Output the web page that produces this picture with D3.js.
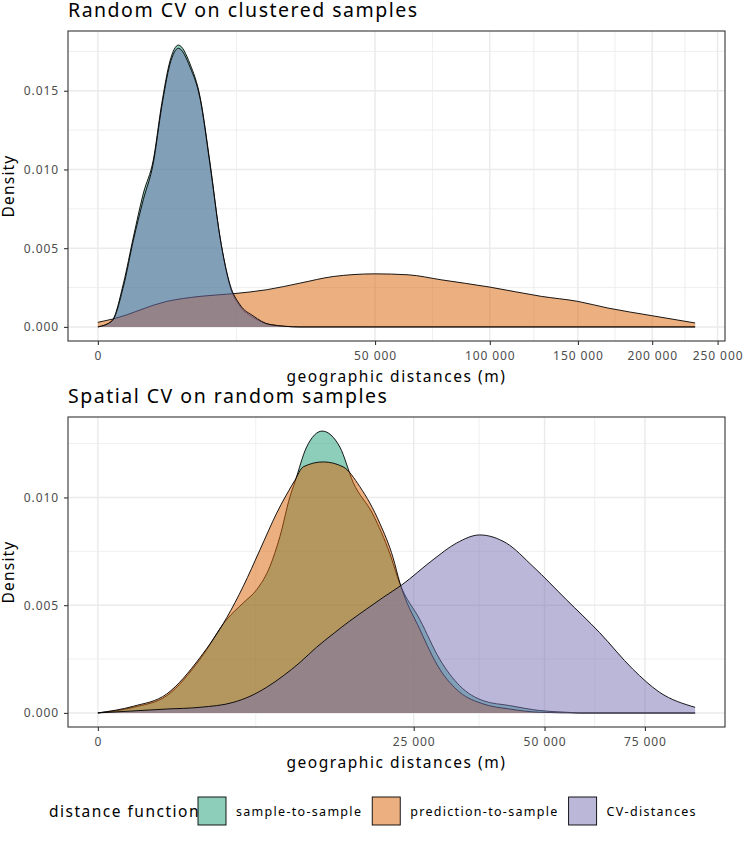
<!DOCTYPE html>
<html>
<head>
<meta charset="utf-8">
<script src="https://cdn.jsdelivr.net/npm/d3@7"></script>
<style>
  body { margin: 0; background: #fff; }
  svg { font-family: "Noto Sans", sans-serif; }
</style>
</head>
<body>
<svg width="750" height="850"></svg>
<script>
// legend groups, in drawing order
const groups = ['sample-to-sample', 'prediction-to-sample', 'CV-distances'];
const fills = ['#1b9e77', '#d95f02', '#7570b3'];

// panel 1: Random CV on clustered samples (distance in m, density)
const topDist = {
  'sample-to-sample': [0, 130, 430, 820, 1350, 2000, 2660, 3390, 4220, 5530, 6800, 8190, 9710, 11360, 13160, 15700, 19300, 26600, 232200],
  'prediction-to-sample': [0, 158, 3091, 6795, 11940, 18545, 26569, 36060, 49900, 62640, 76840, 99930, 128000, 150000, 169300, 199300, 232200],
  'CV-distances': [0, 130, 430, 820, 1350, 2000, 2660, 3390, 4220, 5530, 6800, 8190, 9710, 11360, 13160, 15700, 19300, 26600, 232200]
};
const topDens = {
  'sample-to-sample': [0, 0.0004, 0.0028, 0.0057, 0.0085, 0.0106, 0.0142, 0.0169, 0.0179, 0.0167, 0.0146, 0.0104, 0.0057, 0.0026, 0.0013, 0.0006, 0.00015, 0, 0],
  'prediction-to-sample': [0.00029, 0.00051, 0.00162, 0.00194, 0.00211, 0.00236, 0.00278, 0.0032, 0.00337, 0.00331, 0.00299, 0.00253, 0.00194, 0.00162, 0.0012, 0.00072, 0.00025],
  'CV-distances': [0, 0.00037, 0.0026, 0.0055, 0.0081, 0.0104, 0.014, 0.0167, 0.0177, 0.0165, 0.0145, 0.0103, 0.0057, 0.0027, 0.0014, 0.0007, 0.00015, 0, 0]
};
const topXTicks = [0, 50000, 100000, 150000, 200000, 250000];
const topYTicks = [0, 0.005, 0.010, 0.015];

// panel 2: Spatial CV on random samples
const botDist = {
  'sample-to-sample': [0, 317, 1190, 2616, 4160, 5300, 6320, 7422, 8308, 9245, 9732, 10920, 12612, 14677, 16333, 18990, 21360, 22846, 25970, 29290, 32815, 37170, 42500, 48900, 55000, 58150, 89400],
  'prediction-to-sample': [0, 317, 1190, 2616, 4160, 5300, 6585, 8010, 9732, 10568, 12723, 15080, 17200, 19923, 21845, 22846, 25970, 29290, 32815, 37170, 42500, 48900, 58150, 89400],
  'CV-distances': [0, 1190, 2616, 4597, 5799, 7140, 8612, 10231, 11990, 13877, 15914, 18090, 20392, 23104, 28157, 32220, 36538, 41820, 47437, 54990, 63076, 71717, 79045, 89400]
};
const botDens = {
  'sample-to-sample': [0, 0.00026, 0.0008, 0.00249, 0.00434, 0.00511, 0.00572, 0.0068, 0.00819, 0.01003, 0.01072, 0.01234, 0.01308, 0.01234, 0.0107, 0.0092, 0.0074, 0.006, 0.00434, 0.00249, 0.00126, 0.00057, 0.00034, 0.00011, 0.00003, 0, 0],
  'prediction-to-sample': [0, 0.00031, 0.00088, 0.00257, 0.00442, 0.00588, 0.00757, 0.00927, 0.0108, 0.01142, 0.01165, 0.01142, 0.0105, 0.0088, 0.0072, 0.00605, 0.00388, 0.00203, 0.00096, 0.00042, 0.00018, 0.00003, 0, 0],
  'CV-distances': [0, 0.00018, 0.00026, 0.00049, 0.00077, 0.00119, 0.00172, 0.00234, 0.00305, 0.00367, 0.00427, 0.00482, 0.00536, 0.00593, 0.00711, 0.00788, 0.00826, 0.00788, 0.0068, 0.00526, 0.00373, 0.00203, 0.00096, 0.00026]
};
const botXTicks = [0, 25000, 50000, 75000];
const botYTicks = [0, 0.005, 0.010];

const svg = d3.select('svg');
const fmtX = d3.formatLocale({decimal: '.', thousands: ' ', grouping: [3], currency: ['', '']}).format(',d');
const fmtY = d3.format('.3f');

const left = 68, right = 725;

function panel(cfg) {
  const {top, bottom, title, dist, dens, xTicks, yTicks} = cfg;

  // ranges with 5% expansion (x in sqrt space)
  const maxD = d3.max(groups, k => d3.max(dist[k]));
  const s = Math.sqrt(maxD);
  const x = d3.scaleSqrt()
    .domain([-Math.pow(0.05 * s, 2), Math.pow(1.05 * s, 2)])
    .range([left, right]);
  const maxY = d3.max(groups, k => d3.max(dens[k]));
  const y = d3.scaleLinear()
    .domain([-0.05 * maxY, 1.05 * maxY])
    .range([bottom, top]);

  const g = svg.append('g');

  // minor grid: midpoints in transformed space
  const sq = xTicks.map(Math.sqrt);
  const step = sq[1] - sq[0];
  const ext = [...sq, sq[sq.length - 1] + step];
  const xMinor = d3.range(ext.length - 1).map(i => Math.pow((ext[i] + ext[i + 1]) / 2, 2))
    .filter(v => x(v) < right);
  const yStep = yTicks[1] - yTicks[0];
  const yMinor = [...yTicks, yTicks[yTicks.length - 1] + yStep].map(v => v + yStep / 2)
    .filter(v => y(v) > top);

  g.selectAll('.xminor').data(xMinor).join('line')
    .attr('x1', d => x(d)).attr('x2', d => x(d))
    .attr('y1', top).attr('y2', bottom)
    .attr('stroke', '#ebebeb').attr('stroke-width', 0.8);
  g.selectAll('.yminor').data(yMinor).join('line')
    .attr('y1', d => y(d)).attr('y2', d => y(d))
    .attr('x1', left).attr('x2', right)
    .attr('stroke', '#ebebeb').attr('stroke-width', 0.8);
  g.selectAll('.xmajor').data(xTicks.filter(v => x(v) < right)).join('line')
    .attr('x1', d => x(d)).attr('x2', d => x(d))
    .attr('y1', top).attr('y2', bottom)
    .attr('stroke', '#ebebeb').attr('stroke-width', 1.5);
  g.selectAll('.ymajor').data(yTicks).join('line')
    .attr('y1', d => y(d)).attr('y2', d => y(d))
    .attr('x1', left).attr('x2', right)
    .attr('stroke', '#ebebeb').attr('stroke-width', 1.5);

  // densities: fill then upper outline, group by group
  groups.forEach((k, i) => {
    const pts = dist[k].map((d, j) => [d, dens[k][j]]);
    g.append('path')
      .datum(pts)
      .attr('d', d3.area().curve(d3.curveMonotoneX)
        .x(p => x(p[0])).y0(y(0)).y1(p => y(p[1])))
      .attr('fill', fills[i]).attr('fill-opacity', 0.5);
    g.append('path')
      .datum(pts)
      .attr('d', d3.line().curve(d3.curveMonotoneX)
        .x(p => x(p[0])).y(p => y(p[1])))
      .attr('fill', 'none').attr('stroke', '#000').attr('stroke-width', 0.9);
  });

  // border
  g.append('rect')
    .attr('x', left).attr('y', top)
    .attr('width', right - left).attr('height', bottom - top)
    .attr('fill', 'none').attr('stroke', '#333').attr('stroke-width', 1.1);

  // axes
  const xAxis = d3.axisBottom(x).tickValues(xTicks).tickFormat(fmtX).tickSize(4).tickPadding(6);
  const gx = g.append('g').attr('transform', `translate(0,${bottom})`).call(xAxis);
  const yAxis = d3.axisLeft(y).tickValues(yTicks).tickFormat(fmtY).tickSize(4).tickPadding(5);
  const gy = g.append('g').attr('transform', `translate(${left},0)`).call(yAxis);
  [gx, gy].forEach(a => {
    a.select('.domain').remove();
    a.selectAll('.tick line').attr('stroke', '#333').attr('stroke-width', 1.1);
    a.selectAll('.tick text').attr('fill', '#4d4d4d')
      .style('font-family', '"Noto Sans", sans-serif').style('font-size', '12px')
      .style('letter-spacing', '0.9px');
  });

  // titles
  g.append('text')
    .attr('x', left).attr('y', top - 14)
    .style('font-size', '19.5px').style('letter-spacing', '1.5px').text(title);
  g.append('text')
    .attr('x', (left + right) / 2).attr('y', bottom + 41)
    .attr('text-anchor', 'middle')
    .style('font-size', '15.5px').style('letter-spacing', '1.55px')
    .text('geographic distances (m)');
  g.append('text')
    .attr('transform', `translate(14,${(top + bottom) / 2}) rotate(-90)`)
    .attr('text-anchor', 'middle')
    .style('font-size', '15.5px').style('letter-spacing', '1.2px').text('Density');
}

panel({top: 31, bottom: 341, title: 'Random CV on clustered samples',
  dist: topDist, dens: topDens, xTicks: topXTicks, yTicks: topYTicks});
panel({top: 417, bottom: 727, title: 'Spatial CV on random samples',
  dist: botDist, dens: botDens, xTicks: botXTicks, yTicks: botYTicks});

// legend
const leg = svg.append('g');
leg.append('text').attr('x', 49).attr('y', 817)
  .style('font-size', '15.5px').style('letter-spacing', '1.5px').text('distance function');
let kx = 198;
groups.forEach((k, i) => {
  leg.append('rect')
    .attr('x', kx).attr('y', 797).attr('width', 28).attr('height', 28)
    .attr('fill', fills[i]).attr('fill-opacity', 0.5)
    .attr('stroke', '#000').attr('stroke-width', 0.9);
  const t = leg.append('text')
    .attr('x', kx + 38).attr('y', 815.5)
    .style('font-size', '12.5px').style('letter-spacing', '1.3px').text(k);
  kx += 38 + t.node().getComputedTextLength() + 10;
});
</script>
</body>
</html>
